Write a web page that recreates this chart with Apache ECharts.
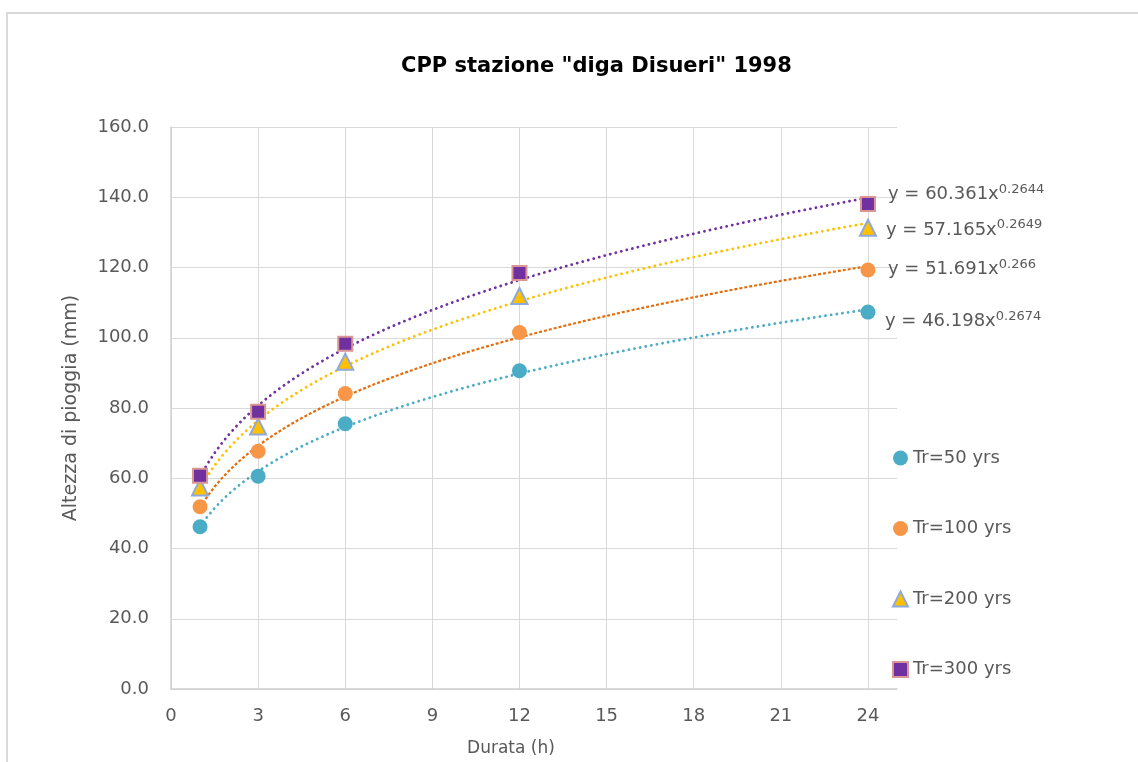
<!DOCTYPE html>
<html>
<head>
<meta charset="utf-8">
<script src="https://cdn.jsdelivr.net/npm/echarts@6/dist/echarts.min.js"></script>
<style>
    html, body { margin: 0; padding: 0; background: #fff; }
    #chart { width: 1138px; height: 762px; }
</style>
</head>
<body>
<div id="chart"></div>
<script>
// durata (h)
var durate = [1, 3, 6, 12, 24];
// altezza di pioggia (mm)
var tr50 = [46.2, 60.6, 75.5, 90.6, 107.3];
var tr100 = [51.9, 67.7, 84.1, 101.5, 119.3];
var tr200 = [57.4, 74.7, 93.2, 111.9, 131.3];
var tr300 = [60.7, 78.9, 98.3, 118.4, 138.1];
var serieNomi = ['Tr=50 yrs', 'Tr=100 yrs', 'Tr=200 yrs', 'Tr=300 yrs'];
// coefficienti delle linee di tendenza y = a x^b (come scritti nel grafico)
var coefA = ['46.198', '51.691', '57.165', '60.361'];
var coefB = ['0.2674', '0.266', '0.2649', '0.2644'];
var xTicks = [0, 3, 6, 9, 12, 15, 18, 21, 24];
var yTicks = [0, 20, 40, 60, 80, 100, 120, 140, 160];

var dati = [tr50, tr100, tr200, tr300];
var colori = ['#4BACC6', '#F79646', '#FFC000', '#7030A0'];
var coloriLinea = ['#4BACC6', '#E46C0A', '#FFC000', '#7030A0'];
var tipoLinea = [[0.1, 5.6], [3, 2], [0.1, 5.6], [0.1, 5.6]];
var capLinea = ['round', 'butt', 'round', 'round'];
var simboli = ['circle', 'circle', 'triangle', 'rect'];
var dimensioni = [15, 15, 16, 14];
var bordi = [null, null, '#8EA9DB', '#D99694'];
var offsetEq = [[9, 12], [12, 3], [10, 7], [12, -3]];

// curva di tendenza: la stessa equazione mostrata nel grafico
function tendenza(a, b) {
    var pts = [];
    for (var x = durate[0]; x <= durate[durate.length - 1] + 1e-9; x += 0.25) {
        pts.push([x, parseFloat(a) * Math.pow(x, parseFloat(b))]);
    }
    return pts;
}

var series = [];
dati.forEach(function (vals, i) {
    series.push({
        name: serieNomi[i] + ' trend',
        type: 'line',
        data: tendenza(coefA[i], coefB[i]),
        showSymbol: false,
        silent: true,
        z: 1,
        lineStyle: {
            color: coloriLinea[i],
            width: i === 1 ? 2.2 : 2.8,
            type: tipoLinea[i],
            cap: capLinea[i]
        },
        endLabel: {
            show: true,
            offset: offsetEq[i],
            formatter: 'y = ' + coefA[i] + 'x{sup|' + coefB[i] + '}',
            color: '#595959',
            fontFamily: 'DejaVu Sans',
            fontSize: 18,
            rich: {
                sup: {
                    fontFamily: 'DejaVu Sans',
                    fontSize: 13,
                    color: '#595959',
                    verticalAlign: 'bottom',
                    padding: [0, 0, 10, 0]
                }
            }
        }
    });
});
dati.forEach(function (vals, i) {
    series.push({
        name: serieNomi[i],
        type: 'scatter',
        data: durate.map(function (d, k) { return [d, vals[k]]; }),
        symbol: simboli[i],
        symbolSize: dimensioni[i],
        z: 3,
        itemStyle: {
            color: colori[i],
            opacity: 1,
            borderColor: bordi[i] || colori[i],
            borderWidth: bordi[i] ? 2 : 0
        }
    });
});

var chart = echarts.init(document.getElementById('chart'));
chart.setOption({
    animation: false,
    backgroundColor: '#fff',
    title: {
        text: 'CPP stazione "diga Disueri" 1998',
        left: 396,
        top: 51,
        textStyle: {
            fontFamily: 'DejaVu Sans',
            fontWeight: 'bold',
            fontSize: 21,
            color: '#000'
        }
    },
    graphic: [{
        type: 'rect',
        shape: { x: 7, y: 13, width: 1300, height: 900 },
        style: { fill: null, stroke: '#D9D9D9', lineWidth: 2 },
        silent: true
    }],
    legend: {
        orient: 'vertical',
        left: 887,
        top: 444,
        itemGap: 52.5,
        itemWidth: 15,
        itemHeight: 15,
        data: serieNomi,
        textStyle: {
            fontFamily: 'DejaVu Sans',
            fontSize: 18,
            color: '#595959'
        }
    },
    grid: {
        left: 171,
        right: 241,
        top: 127,
        bottom: 69,
        containLabel: false
    },
    xAxis: {
        type: 'value',
        min: 0,
        max: 25,
        interval: 3,
        name: 'Durata (h)',
        nameLocation: 'middle',
        nameGap: 51,
        nameTextStyle: {
            fontFamily: 'DejaVu Sans',
            fontSize: 17,
            color: '#595959',
            padding: [0, 46, 0, 0]
        },
        axisLine: { show: true, lineStyle: { color: '#D0D0D0', width: 1.5 } },
        axisTick: { show: false },
        splitLine: { show: true, showMaxLine: false, lineStyle: { color: '#D9D9D9', width: 1 } },
        axisLabel: {
            showMaxLabel: false,
            margin: 18,
            fontFamily: 'DejaVu Sans',
            fontSize: 18,
            color: '#595959',
            formatter: function (v) { return xTicks.indexOf(v) >= 0 ? String(v) : ''; }
        }
    },
    yAxis: {
        type: 'value',
        min: 0,
        max: 160,
        interval: 20,
        name: 'Altezza di pioggia (mm)',
        nameLocation: 'middle',
        nameGap: 90,
        nameTextStyle: {
            fontFamily: 'DejaVu Sans',
            fontSize: 19,
            color: '#595959'
        },
        axisLine: { show: true, lineStyle: { color: '#D0D0D0', width: 1.5 } },
        axisTick: { show: false },
        splitLine: { show: true, lineStyle: { color: '#D9D9D9', width: 1 } },
        axisLabel: {
            margin: 22,
            fontFamily: 'DejaVu Sans',
            fontSize: 18,
            color: '#595959',
            formatter: function (v) { return yTicks.indexOf(v) >= 0 ? v.toFixed(1) : ''; }
        }
    },
    series: series
});
</script>
</body>
</html>
